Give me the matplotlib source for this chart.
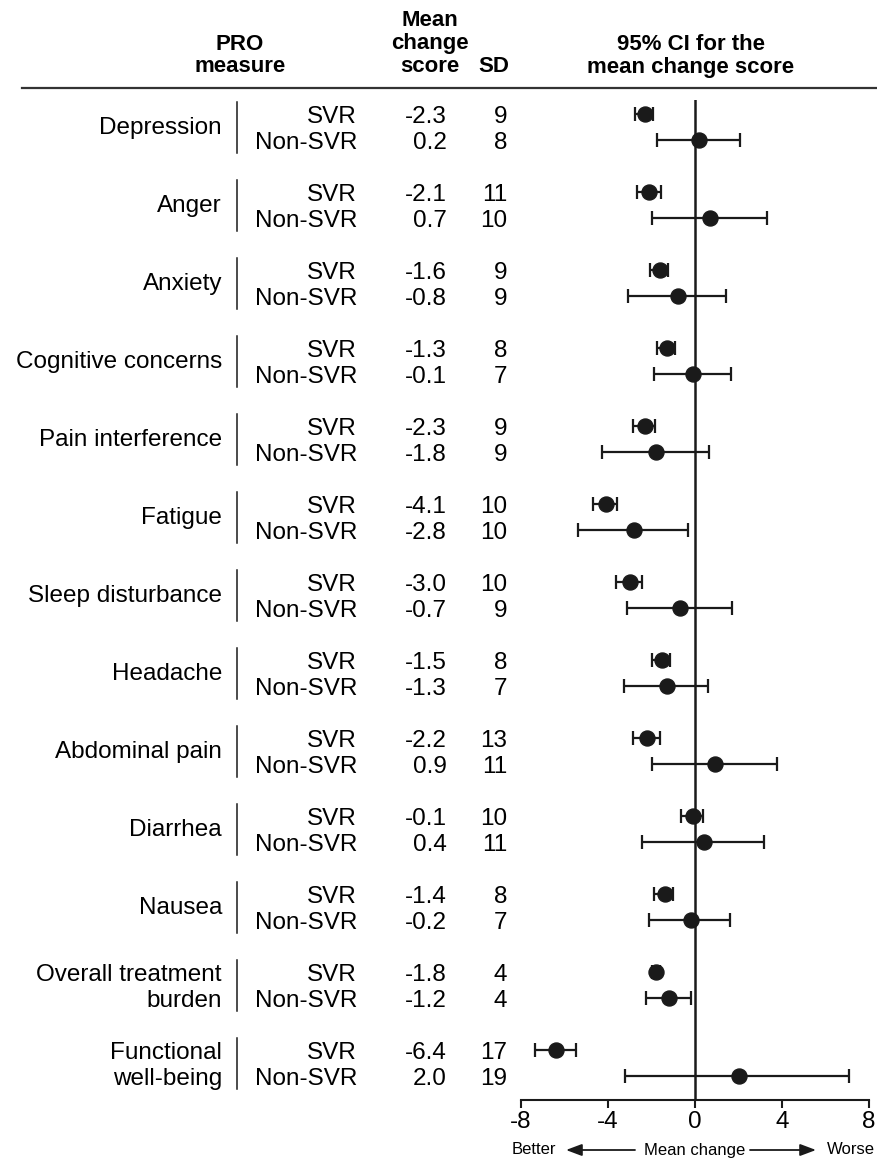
import matplotlib
matplotlib.use("Agg")
import matplotlib.pyplot as plt
import matplotlib.transforms as mtrans
from matplotlib.patches import FancyArrowPatch
import numpy as np

plt.rcParams['font.family'] = ['Liberation Sans', 'DejaVu Sans']

# data
measures = ['Depression', 'Anger', 'Anxiety', 'Cognitive concerns',
            'Pain interference', 'Fatigue', 'Sleep disturbance', 'Headache',
            'Abdominal pain', 'Diarrhea', 'Nausea',
            'Overall treatment\nburden', 'Functional\nwell-being']
groups = ['SVR', 'Non-SVR']

svr_mean = [-2.3, -2.1, -1.6, -1.3, -2.3, -4.1, -3.0, -1.5, -2.2, -0.1, -1.4, -1.8, -6.4]
svr_sd = [9, 11, 9, 8, 9, 10, 10, 8, 13, 10, 8, 4, 17]
svr_lo = [-2.76, -2.68, -2.07, -1.76, -2.84, -4.67, -3.63, -1.99, -2.87, -0.66, -1.87, -2.0, -7.36]
svr_hi = [-1.92, -1.58, -1.23, -0.92, -1.84, -3.6, -2.45, -1.15, -1.61, 0.38, -1.03, -1.6, -5.49]

non_mean = [0.2, 0.7, -0.8, -0.1, -1.8, -2.8, -0.7, -1.3, 0.9, 0.4, -0.2, -1.2, 2.0]
non_sd = [8, 10, 9, 7, 9, 10, 9, 7, 11, 11, 7, 4, 19]
non_lo = [-1.76, -1.99, -3.09, -1.88, -4.29, -5.36, -3.14, -3.25, -1.96, -2.45, -2.1, -2.25, -3.22]
non_hi = [2.07, 3.3, 1.41, 1.64, 0.64, -0.34, 1.69, 0.58, 3.78, 3.17, 1.61, -0.2, 7.09]

xticks = [-8, -4, 0, 4, 8]

W, H = 877, 1161
fig = plt.figure(figsize=(W / 100, H / 100), dpi=100)

# forest axes: x -8..8 between px 521 and 869, bottom spine at px 1100
x0, x1 = 521, 869
ytop, ybot = 100, 1100
ax = fig.add_axes([x0 / W, 1 - ybot / H, (x1 - x0) / W, (ybot - ytop) / H])

row0, step = 116.7, 26.0   # px of first row, px per row
ax.set_xlim(-8, 8)
ax.set_ylim((ybot - row0) / step, (ytop - row0) / step)

n = len(measures)
r_svr = np.arange(n) * 3
r_non = r_svr + 1

ink = '#1a1a1a'
ax.axvline(0, color=ink, lw=1.8, zorder=1)

for r, m, lo, hi in [(r_svr, svr_mean, svr_lo, svr_hi), (r_non, non_mean, non_lo, non_hi)]:
    m = np.array(m)
    err = np.vstack([m - np.array(lo), np.array(hi) - m])
    ax.errorbar(m, r - 0.1, xerr=err, fmt='o', color=ink, ms=10.8,
                elinewidth=1.6, capsize=4.8, capthick=1.6, zorder=3)

for s in ['top', 'right', 'left']:
    ax.spines[s].set_visible(False)
ax.spines['bottom'].set_linewidth(1.5)
ax.spines['bottom'].set_color(ink)
ax.set_yticks([])
ax.set_xticks(xticks)
ax.set_xticklabels([str(t) for t in xticks], fontsize=17.5)
ax.tick_params(axis='x', length=6, width=1.5, color=ink, pad=2)

# table on the left
tr = mtrans.blended_transform_factory(fig.transFigure, ax.transData)
fs = 17.5
for i, name in enumerate(measures):
    lines = name.split('\n')
    if len(lines) == 1:
        ax.text(222 / W, r_svr[i] + 0.45, name, transform=tr, ha='right', va='center',
                fontsize=fs, clip_on=False)
    else:
        for k, ln in enumerate(lines):
            ax.text(222 / W, r_svr[i] + k, ln, transform=tr, ha='right', va='center',
                    fontsize=fs, clip_on=False)
    ax.plot([237 / W, 237 / W], [r_svr[i] - 0.55, r_svr[i] + 1.4], transform=tr,
            color=ink, lw=1.1, clip_on=False)
    for r, g, mv, sd in [(r_svr[i], groups[0], svr_mean[i], svr_sd[i]),
                         (r_non[i], groups[1], non_mean[i], non_sd[i])]:
        ax.text(357 / W, r, g, transform=tr, ha='right', va='center', fontsize=fs, clip_on=False)
        ax.text(447 / W, r, '%.1f' % mv, transform=tr, ha='right', va='center', fontsize=fs, clip_on=False)
        ax.text(507 / W, r, str(sd), transform=tr, ha='right', va='center', fontsize=fs, clip_on=False)

# header
hk = dict(fontsize=16, fontweight='bold', ha='center', va='center')
fig.text(240 / W, 1 - 44 / H, 'PRO', **hk)
fig.text(240 / W, 1 - 67 / H, 'measure', **hk)
fig.text(430 / W, 1 - 21 / H, 'Mean', **hk)
fig.text(430 / W, 1 - 44 / H, 'change', **hk)
fig.text(430 / W, 1 - 67 / H, 'score', **hk)
fig.text(494 / W, 1 - 67 / H, 'SD', **hk)
fig.text(691 / W, 1 - 44 / H, '95% CI for the', **hk)
fig.text(691 / W, 1 - 67 / H, 'mean change score', **hk)
fig.add_artist(plt.Line2D([22 / W, 1.0], [1 - 88 / H, 1 - 88 / H], color='#333333', lw=1.6))

# direction legend under the axis
yb = 1 - 1150 / H
fig.text(512 / W, yb, 'Better', fontsize=12, ha='left', va='center')
fig.text(695 / W, yb, 'Mean change', fontsize=12, ha='center', va='center')
fig.text(875 / W, yb, 'Worse', fontsize=12, ha='right', va='center')
ap = dict(arrowstyle='-|>,head_length=0.8,head_width=0.3', mutation_scale=12,
          color=ink, lw=1.3, shrinkA=0, shrinkB=0, transform=fig.transFigure)
fig.add_artist(FancyArrowPatch((635 / W, yb), (566 / W, yb), **ap))
fig.add_artist(FancyArrowPatch((750 / W, yb), (816 / W, yb), **ap))

fig.savefig('out.png', dpi=100)
